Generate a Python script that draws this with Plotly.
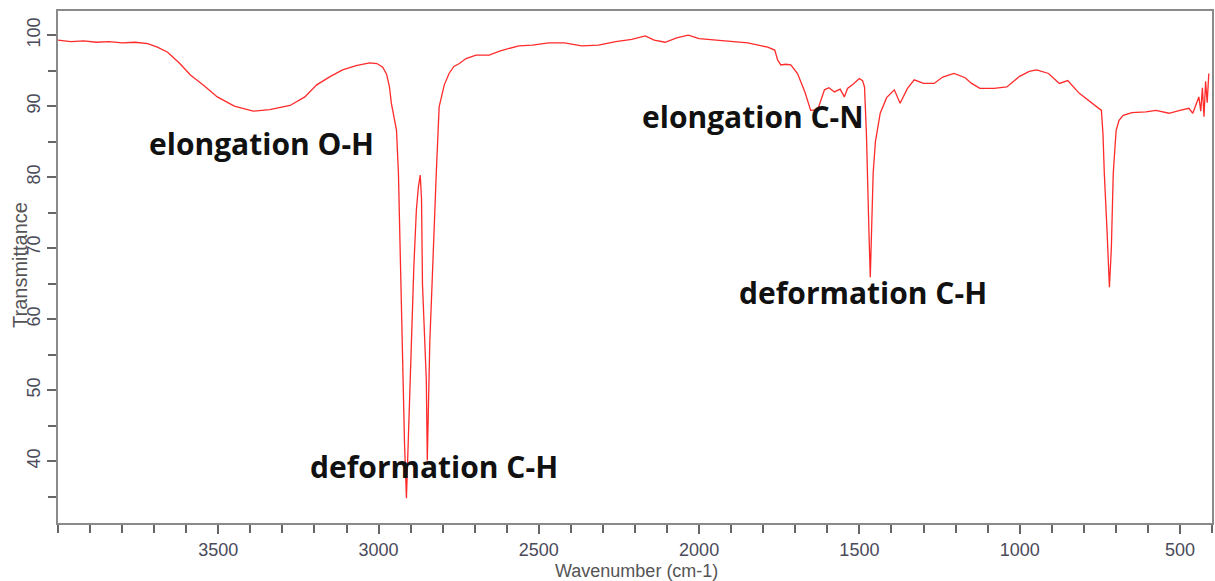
import plotly.graph_objects as go

wavenumber = [4000, 3960, 3920, 3880, 3840, 3800, 3760, 3720, 3690, 3658, 3620, 3587, 3545, 3503, 3450,
              3391, 3340, 3276, 3230, 3193, 3150, 3112, 3070, 3028, 3005, 2987, 2975, 2966, 2960, 2952,
              2944, 2938, 2935, 2929, 2924, 2919, 2913, 2908, 2903, 2898, 2890, 2882, 2876, 2870, 2866,
              2863, 2857, 2851, 2848, 2844, 2840, 2835, 2828, 2820, 2811, 2795, 2780, 2765, 2748, 2727,
              2696, 2655, 2620, 2562, 2520, 2469, 2420, 2366, 2314, 2260, 2210, 2168, 2140, 2106, 2070,
              2034, 2000, 1950, 1900, 1848, 1786, 1764, 1755, 1745, 1730, 1714, 1693, 1670, 1652, 1630,
              1609, 1595, 1578, 1560, 1547, 1537, 1520, 1500, 1490, 1484, 1478, 1475, 1470, 1466, 1462,
              1457, 1450, 1435, 1415, 1391, 1373, 1350, 1329, 1300, 1267, 1240, 1205, 1170, 1150, 1124,
              1080, 1040, 1000, 970, 947, 910, 876, 850, 814, 780, 760, 745, 740, 736, 728,
              720, 714, 708, 703, 699, 690, 677, 650, 606, 575, 534, 500, 472, 460, 450,
              441, 435, 430, 425, 420, 415, 410]

transmittance = [99.3, 99.1, 99.2, 99.0, 99.1, 98.9, 99.0, 98.8, 98.3, 97.6, 96.0, 94.4, 92.9, 91.3, 90.0,
                 89.3, 89.5, 90.1, 91.3, 93.0, 94.2, 95.1, 95.7, 96.1, 96.0, 95.5, 94.5, 92.7, 90.4, 88.5,
                 86.6, 80.6, 74.9, 60.3, 51.0, 42.5, 34.8, 42.0, 48.2, 56.0, 67.3, 75.4, 78.5, 80.3, 77.0,
                 65.0, 57.0, 51.4, 40.1, 50.0, 57.0, 62.7, 72.0, 80.5, 89.9, 93.0, 94.6, 95.6, 96.0, 96.7,
                 97.2, 97.2, 97.8, 98.5, 98.6, 98.9, 98.9, 98.5, 98.6, 99.1, 99.4, 99.9, 99.3, 99.0, 99.6,
                 100.0, 99.5, 99.3, 99.2, 98.9, 98.3, 97.9, 96.5, 95.8, 95.9, 95.8, 94.6, 92.0, 89.4, 89.5,
                 92.3, 92.6, 92.0, 92.4, 91.3, 92.5, 93.1, 93.9, 93.6, 92.7, 86.0, 79.2, 72.0, 65.9, 72.0,
                 80.6, 85.0, 89.0, 91.2, 92.3, 90.4, 92.5, 93.7, 93.2, 93.2, 94.1, 94.6, 94.0, 93.2, 92.5,
                 92.5, 92.7, 94.2, 94.9, 95.1, 94.6, 93.2, 93.6, 91.8, 90.6, 89.9, 89.4, 86.0, 80.6, 73.0,
                 64.5, 70.0, 80.6, 84.0, 86.6, 88.0, 88.7, 89.1, 89.2, 89.4, 89.0, 89.4, 89.7, 89.0, 90.2,
                 91.3, 89.3, 92.6, 88.5, 93.5, 90.5, 94.6]

labels = ["elongation O-H", "deformation C-H", "elongation C-N", "deformation C-H"]
label_x = [3366, 2826, 1832, 1488]
label_y = [84.8, 39.2, 88.6, 63.7]

x_ticks = [3500, 3000, 2500, 2000, 1500, 1000, 500]
y_ticks = [40, 50, 60, 70, 80, 90, 100]

fig = go.Figure()
fig.add_trace(go.Scatter(x=wavenumber, y=transmittance, mode="lines",
                         line=dict(color="#ff2a2a", width=1.3), showlegend=False,
                         hoverinfo="skip"))

for t, xv, yv in zip(labels, label_x, label_y):
    fig.add_annotation(x=xv, y=yv, text="<b>" + t + "</b>", showarrow=False,
                       font=dict(family="Open Sans", size=30, color="#111111"),
                       xanchor="center", yanchor="middle")

# axis titles placed as annotations (the y title overlaps the tick labels as in the original)
fig.add_annotation(xref="paper", yref="paper", x=-0.0329, y=0.504, text="Transmittance",
                   textangle=-90, showarrow=False, xanchor="center", yanchor="middle",
                   font=dict(family="Arial", size=20, color="#555555"))
fig.add_annotation(xref="paper", yref="paper", x=0.501, y=-0.0928, text="Wavenumber (cm-1)",
                   showarrow=False, xanchor="center", yanchor="middle",
                   font=dict(family="Arial", size=18, color="#555555"))

axis_common = dict(showgrid=False, zeroline=False, showline=True, linecolor="#8a8a8a",
                   linewidth=2, mirror=True, ticks="outside", tickcolor="#666666",
                   tickwidth=2, ticklen=9,
                   tickfont=dict(family="Arial", size=18, color="#4a4a5a"))

fig.update_layout(
    width=1215, height=581,
    margin=dict(l=58, r=1, t=11, b=58),
    paper_bgcolor="white", plot_bgcolor="white",
    xaxis=dict(range=[4000, 400], tickvals=x_ticks,
               minor=dict(dtick=100, ticks="outside", ticklen=8, tickcolor="#666666", tickwidth=2),
               **axis_common),
    yaxis=dict(range=[31.3, 103.4], tickvals=y_ticks, tickangle=-90,
               minor=dict(dtick=5, ticks="outside", ticklen=8, tickcolor="#666666", tickwidth=2),
               **axis_common),
)

fig.write_html("out.html")
